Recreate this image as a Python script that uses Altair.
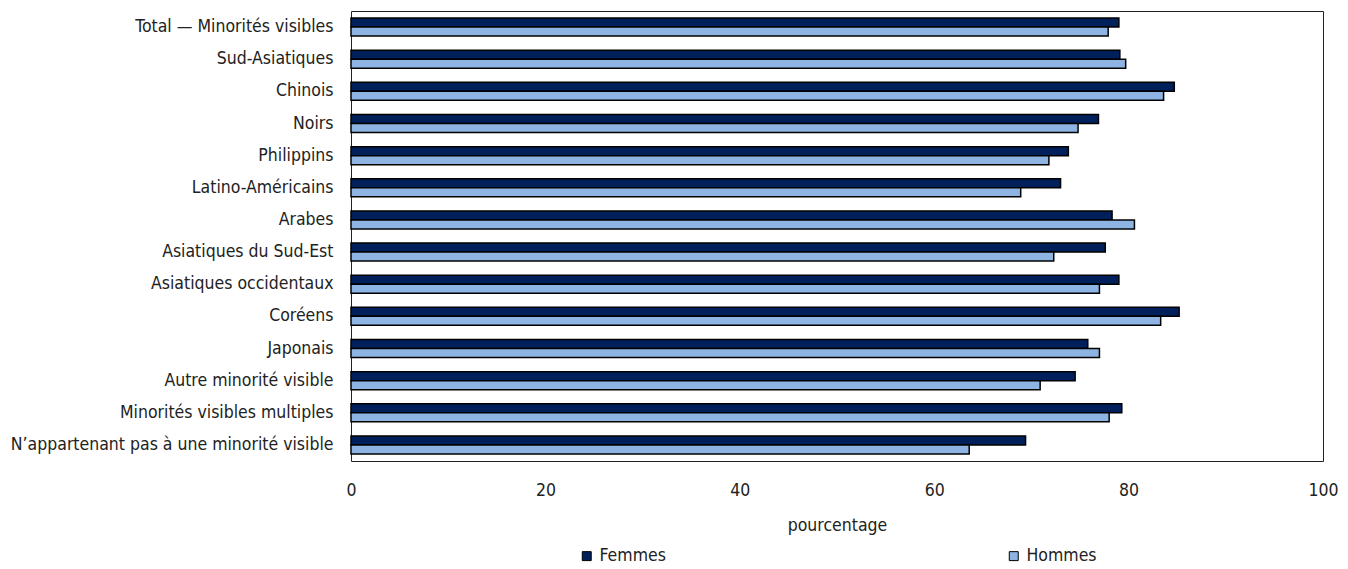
import altair as alt
import pandas as pd

categories = [
    "Total — Minorités visibles",
    "Sud-Asiatiques",
    "Chinois",
    "Noirs",
    "Philippins",
    "Latino-Américains",
    "Arabes",
    "Asiatiques du Sud-Est",
    "Asiatiques occidentaux",
    "Coréens",
    "Japonais",
    "Autre minorité visible",
    "Minorités visibles multiples",
    "N’appartenant pas à une minorité visible",
]
femmes = [79.0, 79.1, 84.7, 76.9, 73.8, 73.0, 78.3, 77.6, 79.0, 85.2, 75.8, 74.5, 79.3, 69.4]
hommes = [77.9, 79.7, 83.6, 74.8, 71.8, 68.9, 80.6, 72.3, 77.0, 83.3, 77.0, 70.9, 78.0, 63.6]
series = ["Femmes", "Hommes"]
x_ticks = [0, 20, 40, 60, 80, 100]

rows = []
for c, f, h in zip(categories, femmes, hommes):
    rows.append({"cat": c, "sexe": "Femmes", "val": f})
    rows.append({"cat": c, "sexe": "Hommes", "val": h})
df = pd.DataFrame(rows)

FONT = "DejaVu Sans Condensed, sans-serif"
FS = 17.5

chart = alt.Chart(df).mark_bar(stroke="black", strokeWidth=1.5).encode(
    y=alt.Y("cat:N", sort=categories,
            scale=alt.Scale(paddingInner=0.44, paddingOuter=0.22),
            axis=alt.Axis(title=None, ticks=False, domain=False, labelPadding=18,
                          labelFontSize=FS, labelFont=FONT, labelColor="#222",
                          labelLimit=400)),
    yOffset=alt.YOffset("sexe:N", sort=series, scale=alt.Scale(paddingInner=0, paddingOuter=0)),
    x=alt.X("val:Q", scale=alt.Scale(domain=[0, 100], nice=False),
            axis=alt.Axis(title="pourcentage", values=x_ticks, grid=False, ticks=False,
                          domain=False, labelPadding=20, labelFontSize=FS, labelFont=FONT,
                          labelColor="#222", titleFont=FONT, titleFontSize=FS,
                          titleFontWeight="normal", titleColor="#222", titlePadding=18,
                          labelFlush=False)),
    color=alt.Color("sexe:N", sort=series,
                    scale=alt.Scale(domain=series, range=["#00205b", "#8db4e2"]),
                    legend=alt.Legend(title=None, orient="none", legendX=227, legendY=536,
                                      direction="horizontal", columns=2, columnPadding=339,
                                      symbolType="square", symbolSize=80,
                                      symbolStrokeColor="black", symbolStrokeWidth=1,
                                      labelFont=FONT, labelFontSize=FS, labelColor="#222")),
).properties(
    width=972, height=450,
    autosize=alt.AutoSizeParams(type="none"),
    padding={"left": 343, "top": 3, "right": 17, "bottom": 105},
).configure_view(
    stroke="#222", strokeWidth=1
)

chart.save("out.html", embed_options={"renderer": "svg", "actions": False})
